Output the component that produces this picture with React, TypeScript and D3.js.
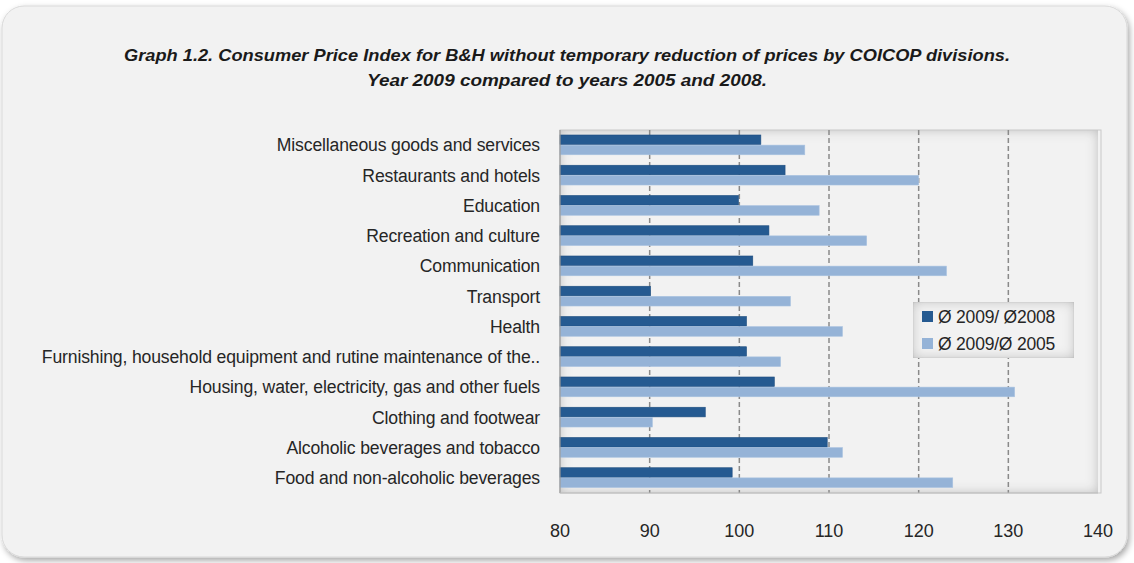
import React from 'react';
import * as d3 from 'd3';

const categories = [
  'Miscellaneous goods and services',
  'Restaurants and hotels',
  'Education',
  'Recreation and culture',
  'Communication',
  'Transport',
  'Health',
  'Furnishing, household equipment and rutine maintenance of the..',
  'Housing, water, electricity, gas and other fuels',
  'Clothing and footwear',
  'Alcoholic beverages and tobacco',
  'Food and non-alcoholic beverages'
];
const series = ['Ø 2009/ Ø2008', 'Ø 2009/Ø 2005'];
const vs2008 = [102.4, 105.1, 99.9, 103.3, 101.5, 90.1, 100.8, 100.8, 103.9, 96.2, 109.8, 99.2];
const vs2005 = [107.3, 120.0, 108.9, 114.2, 123.1, 105.7, 111.5, 104.6, 130.7, 90.3, 111.5, 123.8];
const ticks = [80, 90, 100, 110, 120, 130, 140];
const colors = ['#255a91', '#95b3d7'];
const titleLines = [
  'Graph 1.2. Consumer Price Index  for B&H without temporary reduction of prices by COICOP divisions.',
  'Year 2009 compared to years 2005 and 2008.'
];

const W = 1134;
const H = 563;
const plot = { left: 560, right: 1098, top: 130, bottom: 493 };

const App = () => {
  const x = d3.scaleLinear().domain([80, 140]).range([plot.left, plot.right]);
  const y = d3
    .scaleBand()
    .domain(categories)
    .range([plot.top, plot.bottom])
    .paddingInner(0.33)
    .paddingOuter(0.165);
  const inner = d3.scaleBand().domain(series).range([0, y.bandwidth()]);
  const values = [vs2008, vs2005];

  return (
    <div style={{ position: 'absolute', left: 0, top: 0 }}>
      <svg width={W} height={H} style={{ display: 'block', fontFamily: '"Liberation Sans", Arial, sans-serif' }}>
        <defs>
          <filter id="cardShadow" x="-5%" y="-5%" width="110%" height="115%">
            <feDropShadow dx="2" dy="3" stdDeviation="3" floodColor="#000" floodOpacity="0.35" />
          </filter>
          <filter id="innerShadow" x="0" y="0" width="100%" height="100%">
            <feGaussianBlur in="SourceAlpha" stdDeviation="6" result="blur" />
            <feComposite in="SourceAlpha" in2="blur" operator="arithmetic" k2="1" k3="-1" result="diff" />
            <feFlood floodColor="#000" floodOpacity="0.45" />
            <feComposite in2="diff" operator="in" result="shadow" />
            <feMerge>
              <feMergeNode in="SourceGraphic" />
              <feMergeNode in="shadow" />
            </feMerge>
          </filter>
        </defs>
        <rect width={W} height={H} fill="#fff" />
        {/* card */}
        <rect x={2} y={6} width={1125} height={551} rx={22} fill="#f2f2f2" stroke="#d9d9d9" filter="url(#cardShadow)" />

        {/* title */}
        {titleLines.map((t, i) => (
          <text
            key={i}
            x={567}
            y={61 + i * 25}
            textAnchor="middle"
            fontWeight="bold"
            fontStyle="italic"
            fontSize={17}
            fill="#1a1a1a"
            textLength={i === 0 ? 886 : 400}
            lengthAdjust="spacingAndGlyphs"
          >
            {t}
          </text>
        ))}

        {/* plot area */}
        <rect
          x={plot.left}
          y={plot.top}
          width={plot.right - plot.left}
          height={plot.bottom - plot.top}
          fill="#f2f2f2"
          filter="url(#innerShadow)"
        />
        <rect
          x={plot.left}
          y={plot.top}
          width={plot.right - plot.left + 3}
          height={plot.bottom - plot.top}
          fill="none"
          stroke="#c8c8c8"
        />

        {/* gridlines */}
        {ticks.slice(1, -1).map((t) => (
          <line
            key={t}
            x1={x(t)}
            x2={x(t)}
            y1={plot.top}
            y2={plot.bottom}
            stroke="#8a8a8a"
            strokeWidth={1.5}
            strokeDasharray="5,3"
          />
        ))}

        {/* bars */}
        {categories.map((c, i) => (
          <g key={c} transform={`translate(0,${y(c)})`}>
            {series.map((s, j) => (
              <rect
                key={s}
                x={x(80)}
                y={inner(s)}
                width={x(values[j][i]) - x(80)}
                height={inner.bandwidth() - 0.5}
                fill={colors[j]}
                stroke={j === 0 ? '#1f4e80' : '#a9c2e0'}
                strokeWidth={0.6}
              />
            ))}
          </g>
        ))}

        {/* axis lines */}
        <line x1={plot.left} x2={plot.left} y1={plot.top} y2={plot.bottom} stroke="#9a9a9a" strokeWidth={1.2} />
        <line x1={plot.left} x2={plot.right} y1={plot.bottom} y2={plot.bottom} stroke="#bdbdbd" strokeWidth={1.2} />

        {/* category labels */}
        {categories.map((c) => (
          <text
            key={c}
            x={540}
            y={(y(c) as number) + y.bandwidth() / 2}
            dy="0.35em"
            textAnchor="end"
            fontSize={17.6}
            fill="#262626"
            letterSpacing={-0.15}
          >
            {c}
          </text>
        ))}

        {/* x tick labels */}
        {ticks.map((t) => (
          <text key={t} x={x(t)} y={531} dy="0.35em" textAnchor="middle" fontSize={18} fill="#262626">
            {t}
          </text>
        ))}

        {/* legend */}
        <g transform="translate(913,302)">
          <rect width={161} height={56} fill="#f2f2f2" stroke="#e0e0e0" filter="url(#innerShadow)" />
          {series.map((s, j) => (
            <g key={s} transform={`translate(9,${9 + j * 27})`}>
              <rect width={11} height={11} fill={colors[j]} />
              <text x={16} y={6} dy="0.35em" fontSize={17.5} fill="#262626" letterSpacing={-0.2}>
                {s}
              </text>
            </g>
          ))}
        </g>
      </svg>
    </div>
  );
};

export default App;
